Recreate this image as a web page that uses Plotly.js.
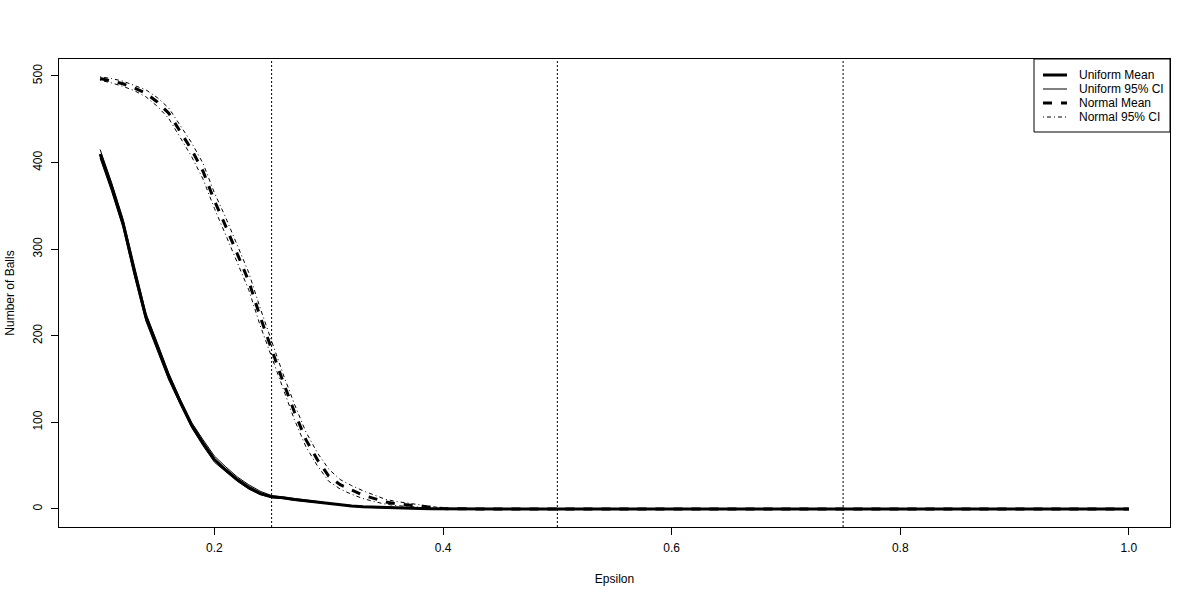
<!DOCTYPE html>
<html>
<head>
<meta charset="utf-8">
<script src="https://cdn.plot.ly/plotly-3.0.1.min.js"></script>
<style>html,body{margin:0;padding:0;background:#fff;}#chart{width:1200px;height:600px;}</style>
</head>
<body>
<div id="chart"></div>
<script>
var epsilon = [0.10,0.11,0.12,0.13,0.14,0.15,0.16,0.17,0.18,0.19,
               0.20,0.21,0.22,0.23,0.24,0.25,0.26,0.27,0.28,0.29,
               0.30,0.31,0.32,0.33,0.34,0.35,0.36,0.37,0.38,0.39,
               0.40,0.41,0.42,0.43,0.44,0.45,
               0.50,0.55,0.60,0.65,0.70,0.75,0.80,0.85,0.90,0.95,1.00];

var uniformMean = [410,372,330,274,222,188,153,124,97,76,
                   57,45,34,25,18,14,13,11,9.5,8,
                   6,4.5,3.5,2.5,2,1.5,1.2,0.9,0.6,0.4,
                   0.2,0.1,0,0,0,0,
                   0,0,0,0,0,0,0,0,0,0,0];
var uniformLow  = [405,367,325,269,217,184,149,121,94,73,
                   54,43,32,23,16.5,13,12,10,8.7,7.3,
                   5.4,4,3,2.1,1.6,1.1,0.8,0.6,0.3,0.2,
                   0,0,0,0,0,0,
                   0,0,0,0,0,0,0,0,0,0,0];
var uniformHigh = [415,377,335,279,226,192,157,127,100,80,
                   61,48.5,37,28,20.5,15.5,14,12,10.3,8.7,
                   6.6,5,4,2.9,2.4,1.9,1.6,1.2,0.9,0.6,
                   0.4,0.2,0,0,0,0,
                   0,0,0,0,0,0,0,0,0,0,0];

var normalMean = [497,494,491,486,480,470,457,436,415,390,
                  356,326,294,263,222,184,147,112,80,57,
                  38,28,22,16,12,8,6,4.5,3,1.5,
                  0.5,0.2,0,0,0,0,
                  0,0,0,0,0,0,0,0,0,0,0];
var normalLow  = [495,492,488,483,476,465,451,429,407,381,
                  347,316,284,253,212,175,138,103,72,50,
                  32,23,17,12,8.5,5.5,3.8,2.8,1.6,0.6,
                  0,0,0,0,0,0,
                  0,0,0,0,0,0,0,0,0,0,0];
var normalHigh = [499,497,494,489,484,475,463,443,423,399,
                  365,336,304,273,232,194,156,121,89,65,
                  46,34,27,21,16,11,8.5,6.5,4.5,2.5,
                  1,0.5,0,0,0,0,
                  0,0,0,0,0,0,0,0,0,0,0];

var vlines = [0.25, 0.5, 0.75];
var legendLabels = ["Uniform Mean", "Uniform 95% CI", "Normal Mean", "Normal 95% CI"];

var font = "Liberation Sans, Arial, sans-serif";
var BLACK = "#000";
var DASH_MEAN = "9px,9px";
var DASH_CI = "1px,3px,4px,3px";
var legendStyles = [
  {width: 3, dash: "solid"},
  {width: 1, dash: "solid"},
  {width: 3, dash: DASH_MEAN},
  {width: 1, dash: DASH_CI}
];

var traces = [
  {x: epsilon, y: uniformMean, mode: "lines", name: legendLabels[0],
   line: {color: BLACK, width: 3}},
  {x: epsilon, y: uniformLow, mode: "lines", name: legendLabels[1],
   line: {color: BLACK, width: 1}},
  {x: epsilon, y: uniformHigh, mode: "lines", name: legendLabels[1],
   line: {color: BLACK, width: 1}},
  {x: epsilon, y: normalMean, mode: "lines", name: legendLabels[2],
   line: {color: BLACK, width: 3, dash: DASH_MEAN}},
  {x: epsilon, y: normalLow, mode: "lines", name: legendLabels[3],
   line: {color: BLACK, width: 1, dash: DASH_CI}},
  {x: epsilon, y: normalHigh, mode: "lines", name: legendLabels[3],
   line: {color: BLACK, width: 1, dash: DASH_CI}}
];

// plot area in pixels (for placing the legend box in paper coords)
var M = {l: 59, r: 30, t: 59, b: 73};
var PW = 1200 - M.l - M.r, PH = 600 - M.t - M.b;
function px(xp){ return (xp - M.l) / PW; }
function py(yp){ return (600 - M.b - yp) / PH; }

var shapes = vlines.map(function(v){
  return {type: "line", xref: "x", yref: "paper", x0: v, x1: v, y0: 0, y1: 1,
          line: {color: BLACK, width: 1, dash: "2px,2px"}};
});

// legend box
shapes.push({type: "rect", xref: "paper", yref: "paper",
             x0: px(1034), x1: px(1170), y0: py(132), y1: py(59),
             fillcolor: "#fff", line: {color: BLACK, width: 1}, layer: "above"});
var annotations = [];
var rowY = [75, 89, 103, 117];
legendLabels.forEach(function(lab, i){
  shapes.push({type: "line", xref: "paper", yref: "paper",
               x0: px(1043), x1: px(1067), y0: py(rowY[i]), y1: py(rowY[i]),
               line: {color: BLACK, width: legendStyles[i].width, dash: legendStyles[i].dash},
               layer: "above"});
  annotations.push({xref: "paper", yref: "paper", x: px(1077), y: py(rowY[i]),
                    xanchor: "left", yanchor: "middle", showarrow: false,
                    text: lab, font: {family: font, size: 12, color: BLACK}});
});

var layout = {
  width: 1200, height: 600,
  margin: M,
  paper_bgcolor: "#fff", plot_bgcolor: "#fff",
  font: {family: font, size: 12, color: BLACK},
  showlegend: false,
  xaxis: {range: [0.064, 1.036], tickvals: [0.2,0.4,0.6,0.8,1.0],
          ticktext: ["0.2","0.4","0.6","0.8","1.0"],
          showgrid: false, zeroline: false, showline: true, mirror: true,
          linecolor: BLACK, linewidth: 1, ticks: "outside", ticklen: 7,
          tickcolor: BLACK, tickfont: {family: font, size: 12},
          ticklabelstandoff: 3,
          title: {text: "Epsilon", font: {family: font, size: 12}, standoff: 20}},
  yaxis: {range: [-20.8, 519.6], tickvals: [0,100,200,300,400,500],
          tickangle: -90,
          showgrid: false, zeroline: false, showline: true, mirror: true,
          linecolor: BLACK, linewidth: 1, ticks: "outside", ticklen: 7,
          tickcolor: BLACK, tickfont: {family: font, size: 12},
          ticklabelstandoff: 4,
          title: {text: "Number of Balls", font: {family: font, size: 12}, standoff: 14}},
  shapes: shapes,
  annotations: annotations
};

Plotly.newPlot("chart", traces, layout, {displayModeBar: false, staticPlot: true});
</script>
</body>
</html>
